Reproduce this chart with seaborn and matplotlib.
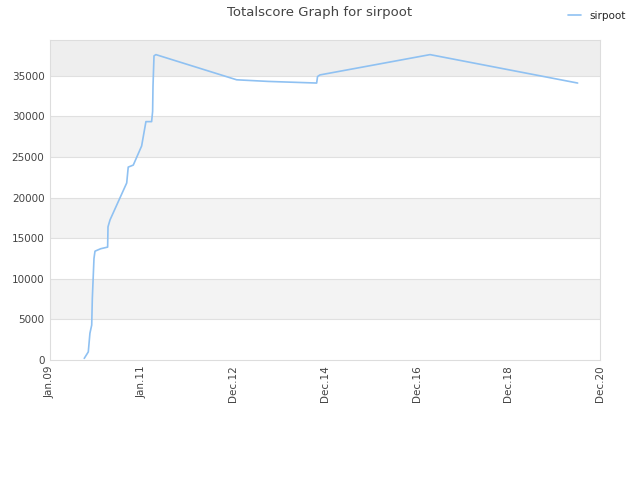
import matplotlib
matplotlib.use("Agg")
import matplotlib.pyplot as plt
import matplotlib.dates as mdates
import numpy as np
import pandas as pd
import seaborn as sns

# ---- data ----
dates = ["2009-09-29", "2009-10-31", "2009-11-13", "2009-11-27", "2009-12-02",
         "2009-12-15", "2009-12-23", "2010-02-06", "2010-04-02", "2010-04-05",
         "2010-04-21", "2010-08-31", "2010-09-12", "2010-10-22", "2010-12-27",
         "2011-01-09", "2011-01-30", "2011-03-16", "2011-03-24", "2011-03-27",
         "2011-04-04", "2011-04-19", "2013-01-17", "2013-09-24", "2014-10-12",
         "2014-10-19", "2014-11-07", "2017-03-27", "2020-06-07"]
scores = [200, 1000, 3300, 4300, 7600,
          12500, 13400, 13700, 13900, 16400,
          17250, 21800, 23750, 24000, 26350,
          27500, 29350, 29350, 30600, 33700,
          37450, 37600, 34500, 34300, 34100,
          34900, 35100, 37600, 34100]
series_name = "sirpoot"
tick_labels = ["Jan.09", "Jan.11", "Dec.12", "Dec.14", "Dec.16", "Dec.18", "Dec.20"]
y_ticks = [0, 5000, 10000, 15000, 20000, 25000, 30000, 35000]
title = "Totalscore Graph for sirpoot"

df = pd.DataFrame({"date": pd.to_datetime(dates), "score": scores, "player": series_name})

sns.set_theme(style="white")
plt.rcParams["font.family"] = ["DejaVu Sans"]

fig = plt.figure(figsize=(6.4, 4.8), dpi=100)
ax = fig.add_axes([50/640, 120/480, 550/640, 320/480])

x0 = mdates.date2num(pd.Timestamp("2009-01-01"))
x1 = mdates.date2num(pd.Timestamp("2020-12-01"))
ymax = 39400

# background bands
for lo in [5000, 15000, 25000]:
    ax.axhspan(lo, lo + 5000, color="#f3f3f3", zorder=0, lw=0)
ax.axhspan(35000, ymax, color="#eeeeee", zorder=0, lw=0)
for yv in y_ticks[1:]:
    ax.axhline(yv, color="#e0e0e0", lw=0.8, zorder=0.5)

sns.lineplot(data=df, x="date", y="score", hue="player", palette=["#8fc1f2"],
             linewidth=1.2, ax=ax, zorder=2)

ax.set_xlim(mdates.num2date(x0), mdates.num2date(x1))
ax.set_ylim(0, ymax)
ax.set_xticks(np.linspace(x0, x1, len(tick_labels)))
ax.set_xticklabels(tick_labels, rotation=90, fontsize=7.5, color="#444444")
ax.set_yticks(y_ticks)
ax.set_yticklabels([str(v) for v in y_ticks], fontsize=7.5, color="#444444")
ax.tick_params(axis="both", length=0, pad=4)
ax.set_xlabel("")
ax.set_ylabel("")
for s in ax.spines.values():
    s.set_color("#dddddd")
    s.set_linewidth(0.8)

ax.legend_.remove()
handles, labels = ax.get_legend_handles_labels()
fig.legend(handles, labels, loc="upper right", bbox_to_anchor=(0.992, 0.997),
           frameon=False, fontsize=7.5, handlelength=1.2)
fig.suptitle(title, y=0.988, fontsize=9.5, color="#444444")

fig.savefig("out.png", dpi=100)
